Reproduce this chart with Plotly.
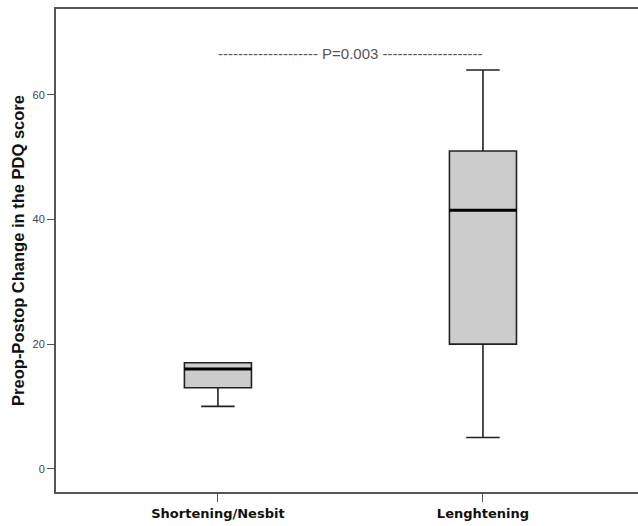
import plotly.graph_objects as go

# Data
categories = ["Shortening/Nesbit", "Lenghtening"]
positions = [0, 1]
lower_whisker = [10, 5]
q1_vals = [13, 20]
median_vals = [16, 41.5]
q3_vals = [17, 51]
upper_whisker = [17, 64]
p_text = "-------------------- P=0.003 --------------------"
p_level = 66.7
y_ticks = [0, 20, 40, 60]

box_w = 0.253

fig = go.Figure()
fig.add_trace(go.Box(
    x=positions, q1=q1_vals, median=median_vals, q3=q3_vals,
    lowerfence=lower_whisker, upperfence=upper_whisker,
    width=box_w, whiskerwidth=0.5,
    fillcolor="#cccccc",
    line=dict(color="#222222", width=1.6),
    boxpoints=False, showlegend=False, hoverinfo="skip",
))

# thicker median lines
mx, my = [], []
for p, m in zip(positions, median_vals):
    mx += [p - box_w / 2, p + box_w / 2, None]
    my += [m, m, None]
fig.add_trace(go.Scatter(x=mx, y=my, mode="lines",
                         line=dict(color="#000000", width=3),
                         showlegend=False, hoverinfo="skip"))

fig.add_annotation(x=(positions[0] + positions[1]) / 2, y=p_level,
                   text=p_text, showarrow=False, xref="x", yref="y",
                   font=dict(family="Liberation Sans, Arial", size=15, color="#555555"))

fig.update_layout(
    width=638, height=526,
    margin=dict(l=56, r=0, t=9, b=34),
    paper_bgcolor="white", plot_bgcolor="white",
    font=dict(family="Liberation Sans, Arial", color="#333333"),
)
fig.update_xaxes(
    range=[-0.611, 1.585], tickvals=positions, ticktext=[f"<b>{c}</b>" for c in categories],
    tickfont=dict(size=13, color="#111111", family="DejaVu Sans, Liberation Sans"),
    ticks="outside", ticklen=8, tickwidth=1.3, tickcolor="#555555",
    showline=True, linecolor="#555555", linewidth=2, mirror=True,
    showgrid=False, zeroline=False,
)
fig.update_yaxes(
    range=[-3.74, 73.8], tickvals=y_ticks,
    tickfont=dict(size=11, color="#444444"),
    ticks="outside", ticklen=7, tickwidth=1.3, tickcolor="#555555",
    showline=True, linecolor="#555555", linewidth=2,
    showgrid=False, zeroline=False,
    title=dict(text="<b>Preop-Postop Change in the PDQ score</b>",
               font=dict(size=16.5, color="#111111"), standoff=4),
)

fig.write_html("out.html")
